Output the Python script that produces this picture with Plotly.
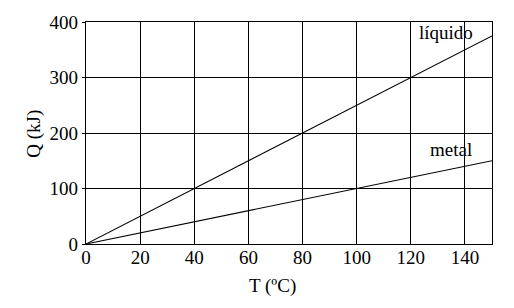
import plotly.graph_objects as go

# Data
T_vals = [0, 150]
Q_liquido = [0, 375]
Q_metal = [0, 150]
x_ticks = [0, 20, 40, 60, 80, 100, 120, 140]
y_ticks = [0, 100, 200, 300, 400]
labels = ["líquido", "metal"]
label_pos = [(133, 381), (135, 170)]

FONT = "Liberation Serif, Times New Roman, serif"
fig = go.Figure()
fig.add_trace(go.Scatter(x=T_vals, y=Q_liquido, mode="lines",
                         line=dict(color="black", width=1.1), showlegend=False))
fig.add_trace(go.Scatter(x=T_vals, y=Q_metal, mode="lines",
                         line=dict(color="black", width=1.1), showlegend=False))

# white masks above each line in the last column (hide grid behind labels)
def mask(xs, ys, top):
    x0, x1 = 127, 150
    s = (ys[1] - ys[0]) / (xs[1] - xs[0])
    return (f"M {x0},{top} L {x1},{top} L {x1},{s*x1+0.5} L {x0},{s*x0+0.5} Z")

fig.add_shape(type="path", path=mask(T_vals, Q_liquido, 399), fillcolor="white",
              line=dict(width=0), layer="below")
fig.add_shape(type="path", path=mask(T_vals, Q_metal, 197), fillcolor="white",
              line=dict(width=0), layer="below")

for lab, (lx, ly) in zip(labels, label_pos):
    fig.add_annotation(x=lx, y=ly, text=lab, showarrow=False,
                       font=dict(family=FONT, size=19, color="black"),
                       xanchor="center", yanchor="middle")

fig.add_annotation(xref="x domain", yref="y domain", x=(272 - 86) / 406,
                   y=(244 - 286) / 221.5, text="T (ºC)", showarrow=False,
                   xanchor="center", yanchor="middle",
                   font=dict(family=FONT, size=19, color="black"))
fig.add_annotation(xref="x domain", yref="y domain", x=(34 - 86) / 406,
                   y=(244 - 134) / 221.5, text="Q (kJ)", textangle=-90,
                   xanchor="center", yanchor="middle",
                   showarrow=False, font=dict(family=FONT, size=19, color="black"))

fig.update_xaxes(range=[0, 150], tickvals=x_ticks, showgrid=True, gridcolor="black",
                 gridwidth=1, showline=True, linecolor="black", linewidth=1.2,
                 mirror=True, ticks="", zeroline=False, ticklabelstandoff=-4,
                 tickfont=dict(family=FONT, size=19, color="black"))
fig.update_yaxes(range=[0, 400], tickvals=y_ticks, showgrid=True, gridcolor="black",
                 gridwidth=1, showline=True, linecolor="black", linewidth=1.2,
                 mirror=True, ticks="outside", ticklen=3, tickcolor="black",
                 zeroline=False, tickfont=dict(family=FONT, size=19, color="black"))

fig.update_layout(width=514, height=308, margin=dict(l=86, r=22, t=22, b=64),
                  paper_bgcolor="white", plot_bgcolor="white",
                  font=dict(family=FONT, color="black"))
fig.write_html("out.html")
